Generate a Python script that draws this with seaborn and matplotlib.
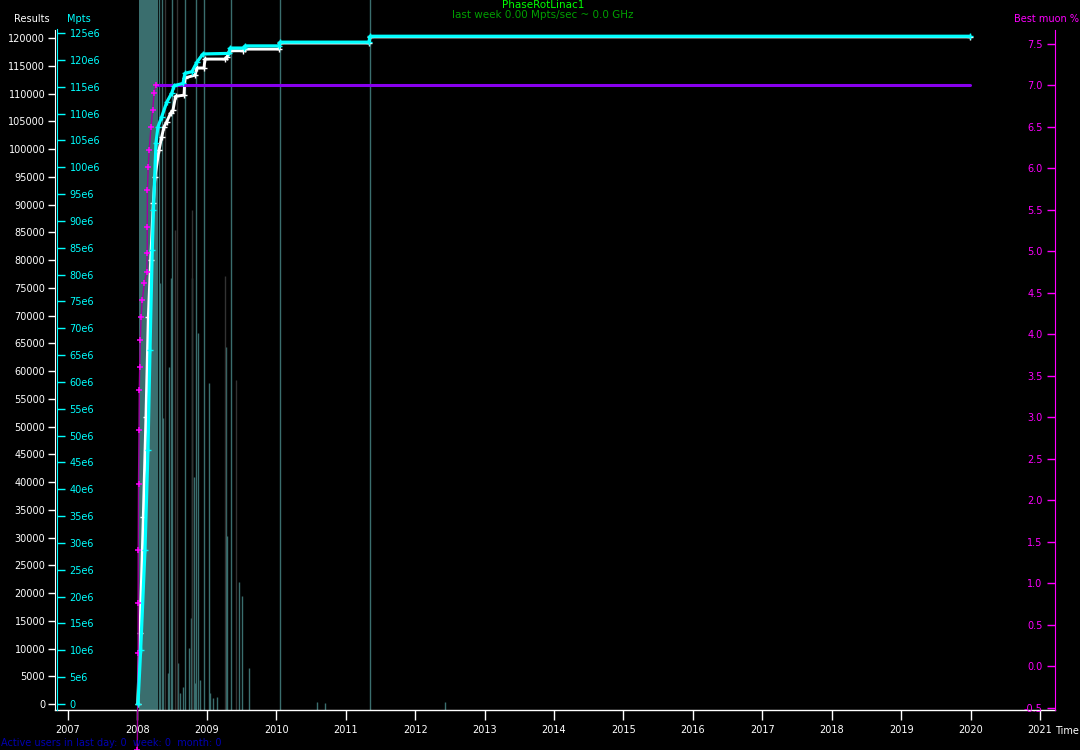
import matplotlib
matplotlib.use("Agg")
import matplotlib.pyplot as plt
import seaborn as sns
from matplotlib.ticker import FixedLocator, FuncFormatter

# cumulative results returned (left white axis)
res_year = [2008.005, 2008.037, 2008.085, 2008.123, 2008.157, 2008.191, 2008.229, 2008.253,
            2008.311, 2008.350, 2008.383, 2008.422, 2008.479, 2008.512, 2008.550, 2008.671,
            2008.685, 2008.829, 2008.858, 2008.959, 2008.973, 2009.261, 2009.290, 2009.333,
            2009.520, 2009.549, 2010.039, 2010.053, 2011.335, 2011.350, 2019.991]
res_count = [0, 12800, 33700, 51700, 69700, 80000, 90300, 95000,
             99800, 102200, 104000, 104900, 106500, 107000, 109500, 109700,
             112800, 113300, 114600, 114600, 116200, 116200, 116600, 117700,
             117700, 118000, 118000, 119100, 119100, 120200, 120200]

# cumulative Mpts, in units of 1e6 (cyan axis)
mpts_year = [2008.008, 2008.047, 2008.109, 2008.152, 2008.181, 2008.214, 2008.231, 2008.267,
             2008.296, 2008.350, 2008.422, 2008.494, 2008.530, 2008.656, 2008.685, 2008.786,
             2008.858, 2008.944, 2009.319, 2009.333, 2009.530, 2009.549, 2010.039, 2010.053,
             2011.335, 2011.350, 2019.991]
mpts_value = [0, 10.1, 28.7, 47.3, 65.9, 84.6, 92.0, 104.5,
              107.5, 109.4, 112.1, 113.8, 115.2, 115.6, 117.5, 117.8,
              119.6, 121.1, 121.2, 122.2, 122.2, 122.6, 122.6, 123.3,
              123.3, 124.4, 124.4]

# best muon % found so far (magenta axis)
muon_year = [2007.998, 2008.010, 2008.011, 2008.012, 2008.016, 2008.023, 2008.027, 2008.033,
             2008.042, 2008.053, 2008.070, 2008.100, 2008.135, 2008.141, 2008.142, 2008.144,
             2008.156, 2008.170, 2008.195, 2008.220, 2008.239, 2008.267]
muon_pct = [-1.0, 0.16, 0.76, 1.40, 2.20, 2.85, 3.33, 3.61,
            3.93, 4.21, 4.41, 4.62, 4.75, 4.98, 5.29, 5.74,
            6.01, 6.22, 6.49, 6.70, 6.90, 7.00]
best_year = [2008.267, 2019.991]
best_pct = [7.0, 7.0]

# daily activity bars, hidden scale (1000 = top of plot)
busy_start = 2008.030
busy_end = 2008.300
busy_height = 1200
bar_year = [2008.311, 2008.325, 2008.358, 2008.373, 2008.440, 2008.459, 2008.479, 2008.502,
            2008.584, 2008.613, 2008.656, 2008.689, 2008.743, 2008.772, 2008.790, 2008.819,
            2008.829, 2008.848, 2008.877, 2008.901, 2008.959, 2009.035, 2009.045, 2009.088,
            2009.146, 2009.271, 2009.294, 2009.352, 2009.467, 2009.510, 2009.611, 2010.053,
            2010.586, 2010.702, 2011.350, 2012.430]
bar_height = [1200, 601, 1200, 411, 52, 483, 608, 1200,
              66, 24, 32, 1200, 87, 130, 608, 328,
              38, 1200, 531, 42, 1200, 461, 24, 17,
              18, 511, 245, 1200, 180, 160, 59, 1200,
              11, 10, 1200, 11]
gray_year = [2008.392, 2008.541, 2008.570, 2008.786, 2009.261, 2009.420]
gray_height = [1200, 676, 1200, 704, 611, 465]

years = list(range(2007, 2022))
res_ticks = list(range(0, 120001, 5000))
mpts_ticks = list(range(0, 126, 5))
muon_ticks = [-0.5, 0.0, 0.5, 1.0, 1.5, 2.0, 2.5, 3.0, 3.5, 4.0, 4.5, 5.0, 5.5, 6.0, 6.5, 7.0, 7.5]

TEAL = '#3a6e6e'
GRAY = '#333333'
CYAN = '#00ffff'
MAGENTA = '#ff00ff'
PURPLE = '#8800ee'

sns.set_style("ticks", {"axes.facecolor": "black", "figure.facecolor": "black"})
plt.rcParams['font.family'] = ['DejaVu Sans']
FS = 7

fig = plt.figure(figsize=(10.8, 7.5), dpi=100, facecolor='black')
base = fig.add_axes([55 / 1080, 40 / 750, 1000 / 1080, 710 / 750])
base.set_facecolor('black')
base.set_xlim(2006.813, 2021.216)
base.set_ylim(0, 1000)

# activity bars
base.bar(busy_start, busy_height, width=busy_end - busy_start, align='edge', color=TEAL,
         linewidth=0, zorder=2)
base.vlines(bar_year, 0, bar_height, colors=TEAL, lw=1, zorder=2)
base.vlines(gray_year, 0, gray_height, colors=GRAY, lw=1, zorder=2)

for s in ['left', 'right', 'top']:
    base.spines[s].set_visible(False)
base.spines['bottom'].set_color('white')
base.spines['bottom'].set_linewidth(1)
base.set_xticks(years)
base.set_xticklabels([str(y) for y in years])
base.tick_params(axis='x', direction='out', length=7, width=1, color='white',
                 labelcolor='white', labelsize=FS, pad=4)
base.set_yticks([])

# results axis
ax_res = base.twinx()
ax_res.set_ylim(-1081, 126847)
for s in ['right', 'top', 'bottom']:
    ax_res.spines[s].set_visible(False)
ax_res.spines['left'].set_visible(True)
ax_res.spines['left'].set_color('white')
ax_res.spines['left'].set_bounds(-1081, 121441)
ax_res.yaxis.tick_left()
ax_res.yaxis.set_major_locator(FixedLocator(res_ticks))
ax_res.yaxis.set_major_formatter(FuncFormatter(lambda v, p: f"{int(v)}"))
ax_res.tick_params(axis='y', direction='out', length=5, width=1, color='white',
                   labelcolor='white', labelsize=FS, pad=2)
sns.lineplot(x=res_year, y=res_count, ax=ax_res, color='white', lw=2.1, marker='+',
             markersize=4, markeredgecolor='white', markeredgewidth=1,
             estimator=None, legend=False)
ax_res.set_xlabel('')
ax_res.set_ylabel('')

# Mpts axis
ax_mpts = base.twinx()
ax_mpts.set_ylim(-1.118, 131.15)
for s in ['left', 'top', 'bottom']:
    ax_mpts.spines[s].set_visible(False)
ax_mpts.spines['right'].set_position(('axes', 0.002))
ax_mpts.spines['right'].set_color(CYAN)
ax_mpts.spines['right'].set_bounds(-1.118, 125.7)
ax_mpts.yaxis.tick_right()
ax_mpts.yaxis.set_major_locator(FixedLocator(mpts_ticks))
ax_mpts.yaxis.set_major_formatter(FuncFormatter(lambda v, p: "0" if v == 0 else f"{int(v)}e6"))
ax_mpts.tick_params(axis='y', direction='out', length=6, width=1, color=CYAN,
                    labelcolor=CYAN, labelsize=FS, pad=3)
sns.lineplot(x=mpts_year, y=mpts_value, ax=ax_mpts, color=CYAN, lw=2.3, marker='+',
             markersize=4, markeredgecolor=CYAN, markeredgewidth=1,
             estimator=None, legend=False)
ax_mpts.set_xlabel('')
ax_mpts.set_ylabel('')

# best muon axis
ax_muon = base.twinx()
ax_muon.set_ylim(-0.524, 8.024)
for s in ['right', 'top', 'bottom']:
    ax_muon.spines[s].set_visible(False)
ax_muon.spines['left'].set_visible(True)
ax_muon.spines['left'].set_position(('axes', 1.0))
ax_muon.spines['left'].set_color(MAGENTA)
ax_muon.spines['left'].set_bounds(-0.524, 7.66)
ax_muon.yaxis.tick_left()
ax_muon.yaxis.set_major_locator(FixedLocator(muon_ticks))
ax_muon.yaxis.set_major_formatter(FuncFormatter(lambda v, p: f"{v:.1f}"))
ax_muon.tick_params(axis='y', direction='out', length=6, width=1, color=MAGENTA,
                    labelcolor=MAGENTA, labelsize=FS, pad=3)
sns.lineplot(x=best_year, y=best_pct, ax=ax_muon, color=PURPLE, lw=2.2,
             estimator=None, legend=False)
sns.lineplot(x=muon_year, y=muon_pct, ax=ax_muon, color='#a000a0', lw=1, marker='+',
             markersize=4, markeredgecolor=MAGENTA, markeredgewidth=1.1,
             estimator=None, legend=False, clip_on=False)
ax_muon.set_xlabel('')
ax_muon.set_ylabel('')

ax_res.set_zorder(1)
ax_muon.set_zorder(2)
ax_mpts.set_zorder(3)

# labels
fig.text(543 / 1080, 1 - 5 / 750, 'PhaseRotLinac1', color='#00ff00', ha='center', va='center', fontsize=7.5)
fig.text(543 / 1080, 1 - 15 / 750, 'last week 0.00 Mpts/sec ~ 0.0 GHz', color='#00a000',
         ha='center', va='center', fontsize=7.5)
fig.text(32 / 1080, 1 - 19 / 750, 'Results', color='white', ha='center', va='center', fontsize=FS)
fig.text(67 / 1080, 1 - 19 / 750, 'Mpts', color=CYAN, ha='left', va='center', fontsize=FS)
fig.text(1079 / 1080, 1 - 19 / 750, 'Best muon %', color=MAGENTA, ha='right', va='center', fontsize=FS)
fig.text(1055 / 1080, 1 - 731 / 750, 'Time', color='white', ha='left', va='center', fontsize=FS)
fig.text(1 / 1080, 1 - 743 / 750, 'Active users in last day: 0  week: 0  month: 0', color='#0000b0',
         ha='left', va='center', fontsize=FS)

fig.savefig('out.png', dpi=100, facecolor='black')
